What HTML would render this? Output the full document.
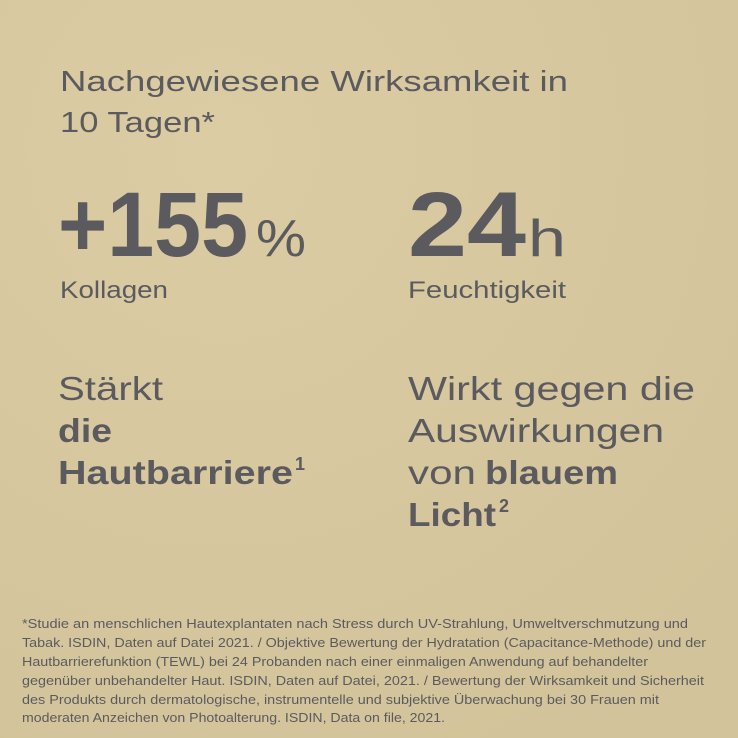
<!DOCTYPE html>
<html><head><meta charset="utf-8"><style>
html,body{margin:0;padding:0}
body{width:738px;height:738px;overflow:hidden;background:#d8c89f}
svg{display:block}
text{font-family:"Liberation Sans",sans-serif;fill:#5b5b5f}
</style></head><body>
<svg width="738" height="738" viewBox="0 0 738 738">
<defs>
<radialGradient id="g" cx="0.3" cy="0.2" r="0.9">
<stop offset="0" stop-color="#dccca4"/><stop offset="1" stop-color="#d3c39a"/>
</radialGradient>
</defs>
<rect width="738" height="738" fill="url(#g)"/>
<text x="60" y="91" font-size="29" textLength="508" lengthAdjust="spacingAndGlyphs">Nachgewiesene Wirksamkeit in</text>
<text x="60" y="132" font-size="29" textLength="155" lengthAdjust="spacingAndGlyphs">10 Tagen*</text>
<text x="58" y="256" font-size="92" font-weight="bold" textLength="190" lengthAdjust="spacingAndGlyphs">+155</text>
<text x="256" y="256" font-size="52" textLength="50" lengthAdjust="spacingAndGlyphs">%</text>
<text x="408" y="256" font-size="92" font-weight="bold" textLength="118" lengthAdjust="spacingAndGlyphs">24</text>
<text x="528" y="256" font-size="52" textLength="38" lengthAdjust="spacingAndGlyphs">h</text>
<text x="60" y="298" font-size="24" textLength="108" lengthAdjust="spacingAndGlyphs">Kollagen</text>
<text x="408" y="298" font-size="24" textLength="158" lengthAdjust="spacingAndGlyphs">Feuchtigkeit</text>
<text x="58" y="400" font-size="33" textLength="105" lengthAdjust="spacingAndGlyphs">Stärkt</text>
<text x="58" y="442" font-size="33" font-weight="bold" textLength="54" lengthAdjust="spacingAndGlyphs">die</text>
<text x="58" y="484" font-size="33" font-weight="bold" textLength="235" lengthAdjust="spacingAndGlyphs">Hautbarriere</text>
<text x="295" y="470" font-size="18" font-weight="bold">1</text>
<text x="408" y="400" font-size="33" textLength="287" lengthAdjust="spacingAndGlyphs">Wirkt gegen die</text>
<text x="408" y="442" font-size="33" textLength="256" lengthAdjust="spacingAndGlyphs">Auswirkungen</text>
<text x="408" y="484" font-size="33" textLength="68" lengthAdjust="spacingAndGlyphs">von</text>
<text x="485" y="484" font-size="33" font-weight="bold" textLength="133" lengthAdjust="spacingAndGlyphs">blauem</text>
<text x="408" y="526" font-size="33" font-weight="bold" textLength="88" lengthAdjust="spacingAndGlyphs">Licht</text>
<text x="499" y="512" font-size="18" font-weight="bold">2</text>
<g font-size="13">
<text x="22" y="628" textLength="666" lengthAdjust="spacingAndGlyphs">*Studie an menschlichen Hautexplantaten nach Stress durch UV-Strahlung, Umweltverschmutzung und</text>
<text x="22" y="647" textLength="684" lengthAdjust="spacingAndGlyphs">Tabak. ISDIN, Daten auf Datei 2021. / Objektive Bewertung der Hydratation (Capacitance-Methode) und der</text>
<text x="22" y="666" textLength="626" lengthAdjust="spacingAndGlyphs">Hautbarrierefunktion (TEWL) bei 24 Probanden nach einer einmaligen Anwendung auf behandelter</text>
<text x="22" y="685" textLength="682" lengthAdjust="spacingAndGlyphs">gegenüber unbehandelter Haut. ISDIN, Daten auf Datei, 2021. / Bewertung der Wirksamkeit und Sicherheit</text>
<text x="22" y="704" textLength="637" lengthAdjust="spacingAndGlyphs">des Produkts durch dermatologische, instrumentelle und subjektive Überwachung bei 30 Frauen mit</text>
<text x="22" y="722" textLength="423" lengthAdjust="spacingAndGlyphs">moderaten Anzeichen von Photoalterung. ISDIN, Data on file, 2021.</text>
</g>
</svg>
</body></html>
